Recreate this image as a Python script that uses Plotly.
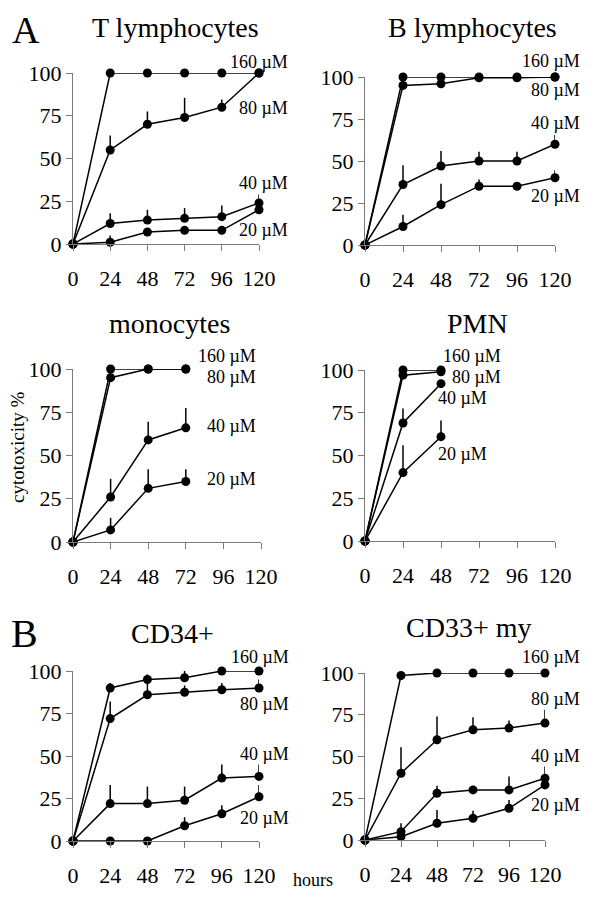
import plotly.graph_objects as go

hours = [0, 24, 48, 72, 96, 120]
conc_labels = ["160 µM", "80 µM", "40 µM", "20 µM"]
panel_titles = ["T lymphocytes", "B lymphocytes", "monocytes", "PMN", "CD34+", "CD33+ my"]

# T lymphocytes
t_160 = [0, 100, 100, 100, 100, 100]
t_80 = [0, 55, 70, 74, 80, 100]
t_40 = [0, 12, 14, 15, 16, 24]
t_20 = [0, 1, 7, 8, 8, 20]
t_80_err = [0, 8.5, 7.5, 11.5, 4.5, 0]
t_40_err = [0, 6, 6, 6, 6.5, 5]
t_20_err = [0, 4, 0, 0, 0, 0]

# B lymphocytes
b_160 = [0, 100, 100, 100, 100, 100]
b_80 = [0, 95, 96, 99.5, 99.5, 100]
b_40 = [0, 36, 47, 50, 50, 60]
b_20 = [0, 11, 24, 35, 35, 40]
b_40_err = [0, 11.5, 9, 5.5, 5.5, 5.5]
b_20_err = [0, 7, 12.5, 4, 0, 4.5]

# monocytes (0-72 h)
mono_160 = [0, 100, 100, 100]
mono_80 = [0, 95, 100, 100]
mono_40 = [0, 26, 59, 66]
mono_20 = [0, 7, 31, 35]
mono_40_err = [0, 10.5, 10.5, 11.5]
mono_20_err = [0, 7, 11, 7]

# PMN (0-48 h)
pmn_160 = [0, 100, 100]
pmn_80 = [0, 97, 99]
pmn_40 = [0, 69, 92]
pmn_20 = [0, 40, 61]
pmn_40_err = [0, 8.5, 0]
pmn_20_err = [0, 16, 9.5]

# CD34+
cd34_160 = [0, 90, 95, 96, 100, 100]
cd34_80 = [0, 72, 86, 87.5, 89, 90]
cd34_40 = [0, 22, 22, 24, 37, 38]
cd34_20 = [0, 0, 0, 9, 16, 26]
cd34_160_err = [0, 3, 3, 4, 0, 0]
cd34_80_err = [0, 10, 9, 4, 4, 5]
cd34_40_err = [0, 11, 10, 8, 8, 7]
cd34_20_err = [0, 0, 0, 5, 5, 7]

# CD33+ myeloid
cd33_160 = [0, 98.5, 100, 100, 100, 100]
cd33_80 = [0, 40, 60, 66, 67, 70]
cd33_40 = [0, 5, 28, 30, 30, 37]
cd33_20 = [0, 2, 10, 13, 19, 33]
cd33_80_err = [0, 15.5, 14, 7.5, 4.5, 8]
cd33_40_err = [0, 5, 4.5, 0, 8, 7]
cd33_20_err = [0, 0, 8, 4.5, 5, 0]

FONT = "Liberation Serif"
W, H = 600, 907
OFF = 8  # page body margin shifts the figure by this much


def px(x):
    return (x - OFF) / W


def py(y):
    return 1 - (y - OFF) / H


fig = go.Figure()


def add_series(ax, x, y, err=None):
    n = len(y)
    err = err if err is not None else [0] * n
    fig.add_trace(go.Scatter(
        x=x[:n], y=y, mode="lines+markers",
        xaxis="x" + ax, yaxis="y" + ax,
        line=dict(color="black", width=1.5),
        marker=dict(color="black", size=9),
        error_y=dict(type="data", array=err, arrayminus=[0] * n,
                     color="black", thickness=1.5, width=0),
        cliponaxis=False, showlegend=False,
    ))


panels = [
    ("", [t_160, t_80, t_40, t_20], [None, t_80_err, t_40_err, t_20_err]),
    ("2", [b_160, b_80, b_40, b_20], [None, None, b_40_err, b_20_err]),
    ("3", [mono_160, mono_80, mono_40, mono_20], [None, None, mono_40_err, mono_20_err]),
    ("4", [pmn_160, pmn_80, pmn_40, pmn_20], [None, None, pmn_40_err, pmn_20_err]),
    ("5", [cd34_160, cd34_80, cd34_40, cd34_20], [cd34_160_err, cd34_80_err, cd34_40_err, cd34_20_err]),
    ("6", [cd33_160, cd33_80, cd33_40, cd33_20], [None, cd33_80_err, cd33_40_err, cd33_20_err]),
]
for ax, series, errs in panels:
    for s, e in zip(series, errs):
        add_series(ax, hours, s, e)

# plot areas in pixels: (x0, x1, ytop, ybottom)
boxes = [
    (73, 259, 73, 244), (365, 555, 77, 245),
    (73, 261, 369, 542), (365, 555, 370, 541),
    (73, 259, 671, 841), (365, 545, 673, 840),
]
axis_style = dict(showgrid=False, zeroline=False, showline=True, automargin=False,
                  linecolor="#7a7a7a", linewidth=1.3, ticks="outside",
                  tickcolor="#7a7a7a", tickwidth=1.3, ticklen=6,
                  tickfont=dict(family=FONT, size=22, color="black"))
layout = {}
for i, (x0, x1, yt, yb) in enumerate(boxes):
    k = "" if i == 0 else str(i + 1)
    layout["xaxis" + k] = dict(axis_style, domain=[px(x0), px(x1)], range=[0, 120],
                               tickvals=hours, anchor="y" + k, ticklabelstandoff=8)
    layout["yaxis" + k] = dict(axis_style, domain=[py(yb), py(yt)], range=[0, 100],
                               tickvals=[0, 25, 50, 75, 100], anchor="x" + k)

# concentration labels: (x right edge in hours, y in %) relative to each panel's axes
label_pos = [
    [(140, 106.6), (140, 79.7), (140, 35.8), (140, 8.2)],
    [(137, 109.3), (137, 92), (137, 72.6), (137, 29.2)],
    [(118, 107.7), (118, 95.4), (118, 67.1), (118, 36.2)],
    [(87.4, 108.2), (87.4, 96.1), (78.5, 83.4), (78.5, 50.8)],
    [(140.5, 108.2), (140.5, 80.8), (140.5, 51), (140.5, 13.8)],
    [(144.5, 109.6), (144.5, 84.7), (144.5, 50.2), (144.5, 20.9)],
]
annotations = []
for i, pos in enumerate(label_pos):
    k = "" if i == 0 else str(i + 1)
    for (lx, ly), txt in zip(pos, conc_labels):
        annotations.append(dict(x=lx / 120, y=ly / 100, xref="x" + k + " domain",
                                yref="y" + k + " domain", text=txt,
                                showarrow=False, xanchor="right", yanchor="middle",
                                font=dict(family=FONT, size=18, color="black")))

title_pos = [(175, 28), (472, 28), (169, 323), (477, 323), (172, 633), (468, 627)]
for (tx, ty), txt in zip(title_pos, panel_titles):
    annotations.append(dict(x=px(tx), y=py(ty), xref="paper", yref="paper", text=txt,
                            showarrow=False, xanchor="center", yanchor="middle",
                            font=dict(family=FONT, size=28, color="black")))

# panel letters; "A" hangs from the top edge so it is not clipped
annotations.append(dict(x=px(26), y=1, xref="paper", yref="paper", text="A",
                        showarrow=False, xanchor="center", yanchor="top", borderpad=0,
                        font=dict(family=FONT, size=38, color="black")))
annotations.append(dict(x=px(24), y=py(633), xref="paper", yref="paper", text="B",
                        showarrow=False, xanchor="center", yanchor="middle",
                        font=dict(family=FONT, size=40, color="black")))

annotations.append(dict(x=px(18), y=py(447), xref="paper", yref="paper",
                        text="cytotoxicity %", textangle=-90, showarrow=False,
                        xanchor="center", yanchor="middle",
                        font=dict(family=FONT, size=19, color="black")))
annotations.append(dict(x=px(313), y=py(880), xref="paper", yref="paper",
                        text="hours", showarrow=False, xanchor="center", yanchor="middle",
                        font=dict(family=FONT, size=18, color="black")))

fig.update_layout(template="none", width=W, height=H,
                  margin=dict(l=0, r=0, t=0, b=0, autoexpand=False),
                  plot_bgcolor="white", paper_bgcolor="white",
                  annotations=annotations, **layout)

fig.write_html("out.html")
